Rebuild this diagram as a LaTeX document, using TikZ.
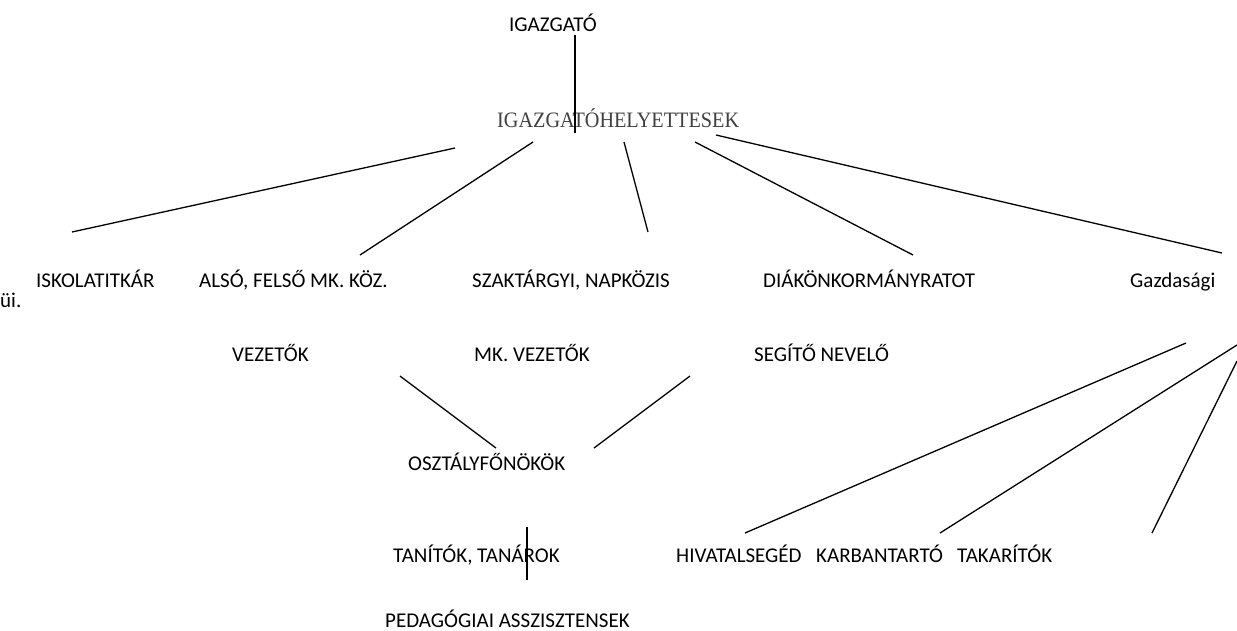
\documentclass[tikz,border=0pt]{standalone}
\usepackage{fontspec}
\newfontfamily\calib{Carlito}
\newfontfamily\camb[FakeStretch=0.92]{Liberation Serif}
\definecolor{halvany}{RGB}{64,64,64}
\tikzset{
  cim/.style={font=\calib\fontsize{21}{24}\selectfont, inner sep=0pt, anchor=base west},
  helyettes/.style={font=\camb\fontsize{22}{24}\selectfont, text=halvany, inner sep=0pt, anchor=base west},
  vonal/.style={line width=1.3pt}
}
\begin{document}
\begin{tikzpicture}[x=1pt,y=-1pt]
		\useasboundingbox (0,0) rectangle (1237,630);
		% szintek
		\node[cim] (igazgato) at (509,31) {IGAZGATÓ};
		\node[helyettes] (helyettesek) at (497,127) {IGAZGATÓHELYETTESEK};
		\node[cim] (titkar) at (36,287) {ISKOLATITKÁR};
		\node[cim] (ui) at (0,307) {üi.};
		\node[cim] (mkkoz) at (199,287) {ALSÓ, FELSŐ MK. KÖZ.};
		\node[cim] (szak) at (472,287) {SZAKTÁRGYI, NAPKÖZIS};
		\node[cim] (diak) at (763,287) {DIÁKÖNKORMÁNYRATOT};
		\node[cim] (gazd) at (1130,287) {Gazdasági};
		\node[cim] (vezetok) at (232,361) {VEZETŐK};
		\node[cim] (mkvez) at (474,361) {MK. VEZETŐK};
		\node[cim] (nevelo) at (754,361) {SEGÍTŐ NEVELŐ};
		\node[cim] (ofo) at (408,470) {OSZTÁLYFŐNÖKÖK};
		\node[cim] (tanar) at (393,562) {TANÍTÓK, TANÁROK};
		\node[cim] (pedas) at (385,627) {PEDAGÓGIAI ASSZISZTENSEK};
		\node[cim] (hivatal) at (676,562) {HIVATALSEGÉD};
		\node[cim] (karban) at (816,562) {KARBANTARTÓ};
		\node[cim] (takar) at (957,562) {TAKARÍTÓK};
		% vonalvegek
		\coordinate (ig-le) at (575,35);
		\coordinate (he-fel) at (575,133);
		\coordinate (he-1) at (455,148);
		\coordinate (he-2) at (533,142);
		\coordinate (he-3) at (624,142);
		\coordinate (he-4) at (695,142);
		\coordinate (he-5) at (716,135);
		\coordinate (ti-fel) at (72,232);
		\coordinate (mk-fel) at (360,255);
		\coordinate (sz-fel) at (648,232);
		\coordinate (di-fel) at (913,255);
		\coordinate (ga-fel) at (1222,253);
		\coordinate (ve-le) at (400,376);
		\coordinate (ne-le) at (690,376);
		\coordinate (of-bal) at (496,448);
		\coordinate (of-jobb) at (594,448);
		\coordinate (of-le) at (527,527);
		\coordinate (ta-fel) at (527,580);
		\coordinate (ga-1) at (1186,343);
		\coordinate (ga-2) at (1237,345);
		\coordinate (ga-3) at (1237,361);
		\coordinate (hi-fel) at (745,533);
		\coordinate (ka-fel) at (940,533);
		\coordinate (tk-fel) at (1152,533);
		% vonalak
		\draw[vonal] (ig-le) -- (he-fel);
		\draw[vonal] (he-1) -- (ti-fel);
		\draw[vonal] (he-2) -- (mk-fel);
		\draw[vonal] (he-3) -- (sz-fel);
		\draw[vonal] (he-4) -- (di-fel);
		\draw[vonal] (he-5) -- (ga-fel);
		\draw[vonal] (ve-le) -- (of-bal);
		\draw[vonal] (ne-le) -- (of-jobb);
		\draw[vonal] (of-le) -- (ta-fel);
		\draw[vonal] (ga-1) -- (hi-fel);
		\draw[vonal] (ga-2) -- (ka-fel);
		\draw[vonal] (ga-3) -- (tk-fel);
	\end{tikzpicture}
\end{document}
